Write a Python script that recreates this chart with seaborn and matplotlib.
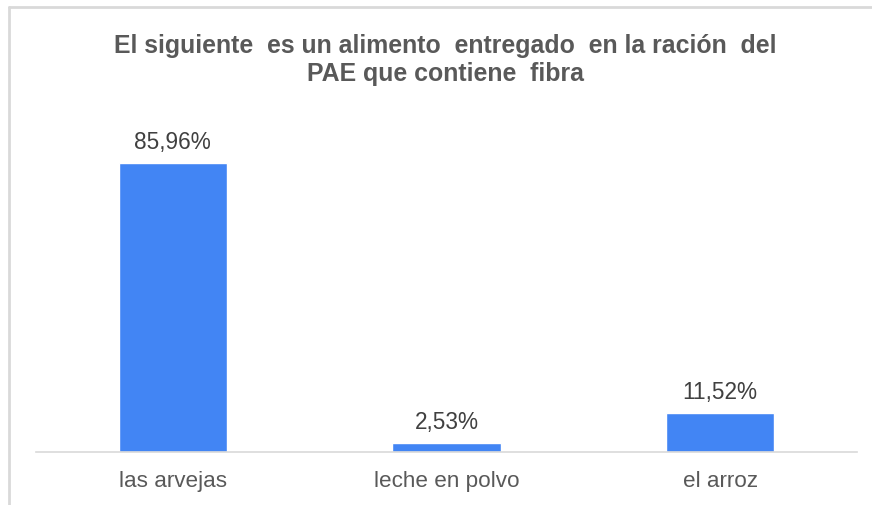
import matplotlib
matplotlib.use("Agg")
import matplotlib.pyplot as plt
import seaborn as sns
import pandas as pd
from matplotlib.lines import Line2D

# === Datos ===
categorias = ["las arvejas", "leche en polvo", "el arroz"]
porcentajes = [85.96, 2.53, 11.52]
etiquetas = ["85,96%", "2,53%", "11,52%"]
titulo = "El siguiente  es un alimento  entregado  en la ración  del\nPAE que contiene  fibra"

df = pd.DataFrame({"categoria": categorias, "porcentaje": porcentajes})

sns.set_style("white")
plt.rcParams["font.family"] = ["Liberation Sans", "DejaVu Sans"]

fig = plt.figure(figsize=(8.72, 5.06), dpi=100)
ax = fig.add_axes([36 / 872, 53 / 506, 821 / 872, 336 / 506])

sns.barplot(data=df, x="categoria", y="porcentaje", color="#4285F4",
            width=0.396, saturation=1, ax=ax)

for i, (v, t) in enumerate(zip(porcentajes, etiquetas)):
    ax.text(i, v + 3.0, t, ha="center", va="bottom", fontsize=16.3, color="#404040")

ax.set_xlim(-0.5, 2.5)
ax.set_ylim(0, 100)
ax.set_xlabel("")
ax.set_ylabel("")
ax.set_yticks([])
ax.tick_params(axis="x", length=0, labelsize=16.2, labelcolor="#595959", pad=13)
sns.despine(ax=ax, left=True)
ax.spines["bottom"].set_color("#d9d9d9")
ax.spines["bottom"].set_linewidth(1.2)

fig.text(445 / 872, 1 - 60 / 506, titulo, ha="center", va="center",
         fontsize=17.9, fontweight="bold", color="#595959", linespacing=1.2)

# borde del recuadro (izquierda y arriba)
fig.add_artist(Line2D([9 / 872, 9 / 872], [0, 1 - 8 / 506], color="#d9d9d9", lw=2,
                      transform=fig.transFigure))
fig.add_artist(Line2D([9 / 872, 1], [1 - 8 / 506, 1 - 8 / 506], color="#d9d9d9", lw=2,
                      transform=fig.transFigure))

plt.savefig("out.png", dpi=100)
plt.close()
